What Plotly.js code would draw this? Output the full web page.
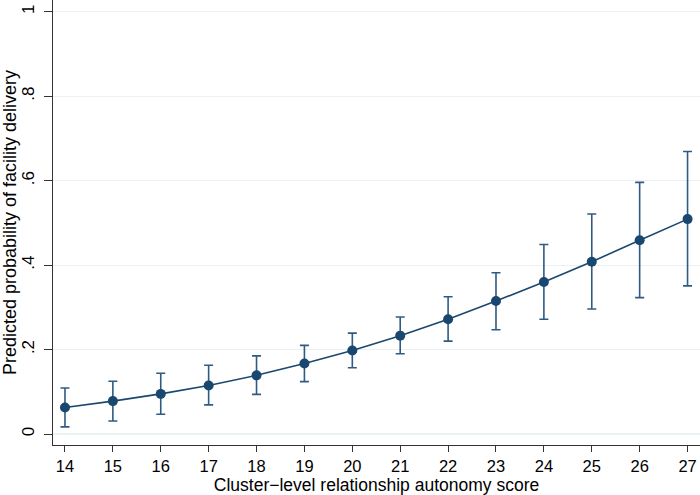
<!DOCTYPE html>
<html>
<head>
<meta charset="utf-8">
<script src="https://cdn.plot.ly/plotly-3.0.1.min.js"></script>
<style>html,body{margin:0;padding:0;background:#fff;}#chart{width:700px;height:495px;}</style>
</head>
<body>
<div id="chart"></div>
<script>
const scores = [14, 15, 16, 17, 18, 19, 20, 21, 22, 23, 24, 25, 26, 27];
const predicted = [0.063, 0.078, 0.095, 0.115, 0.139, 0.167, 0.198, 0.233, 0.272, 0.315, 0.360, 0.408, 0.459, 0.509];
const upperCI = [0.109, 0.125, 0.144, 0.163, 0.185, 0.210, 0.239, 0.277, 0.325, 0.382, 0.449, 0.521, 0.596, 0.669];
const lowerCI = [0.017, 0.031, 0.047, 0.069, 0.094, 0.124, 0.157, 0.190, 0.220, 0.247, 0.272, 0.296, 0.323, 0.351];
const yTickVals = [0, 0.2, 0.4, 0.6, 0.8, 1];
const yTickText = ["0", ".2", ".4", ".6", ".8", "1"];

const navy = "#1a476f";
const trace = {
  x: scores,
  y: predicted,
  type: "scatter",
  mode: "lines+markers",
  line: {color: navy, width: 1.6},
  marker: {color: navy, size: 10},
  error_y: {
    type: "data",
    symmetric: false,
    array: upperCI.map((u, i) => u - predicted[i]),
    arrayminus: lowerCI.map((l, i) => predicted[i] - l),
    color: "#2f5b83",
    thickness: 1.6,
    width: 4.5
  },
  hoverinfo: "x+y"
};

const font = {family: "Liberation Sans, Arial, Helvetica, sans-serif", color: "#000"};
const layout = {
  width: 700,
  height: 495,
  margin: {l: 53, r: 0, t: 0, b: 50},
  paper_bgcolor: "#fff",
  plot_bgcolor: "#fff",
  showlegend: false,
  font: Object.assign({size: 16.5}, font),
  xaxis: {
    range: [13.75, 27.26],
    tickvals: scores,
    ticktext: scores.map(String),
    ticks: "outside",
    ticklen: 6,
    tickwidth: 1,
    tickcolor: "#333",
    showline: true,
    linecolor: "#333",
    linewidth: 1.2,
    showgrid: false,
    zeroline: false,
    tickfont: Object.assign({size: 16.5}, font),
    title: {text: "Cluster\u2212level relationship autonomy score", font: Object.assign({size: 17.5}, font), standoff: 0}
  },
  yaxis: {
    range: [-0.026, 1.028],
    tickvals: yTickVals,
    ticktext: yTickText,
    tickangle: -90,
    ticks: "outside",
    ticklen: 8,
    ticklabelstandoff: 3,
    tickwidth: 1,
    tickcolor: "#333",
    showline: true,
    linecolor: "#333",
    linewidth: 1.2,
    showgrid: true,
    gridcolor: "#e8f1f3",
    gridwidth: 1.2,
    zeroline: false,
    tickfont: Object.assign({size: 17}, font),
    title: {text: "Predicted probability of facility delivery", font: Object.assign({size: 18}, font), standoff: 0}
  }
};

Plotly.newPlot("chart", [trace], layout, {displayModeBar: false, staticPlot: true});
</script>
</body>
</html>
